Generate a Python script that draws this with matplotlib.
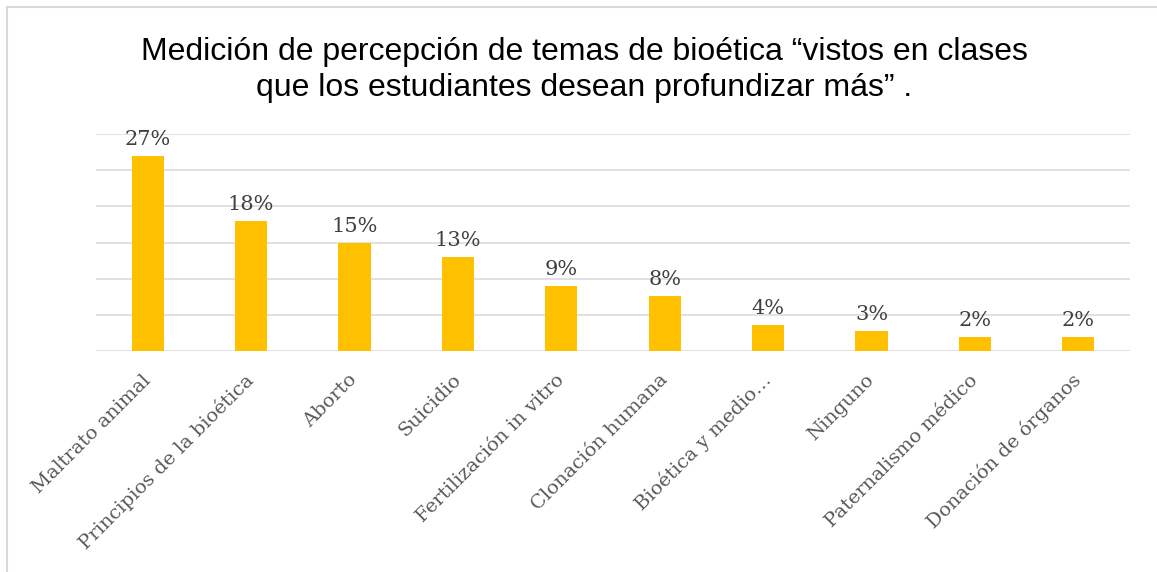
import matplotlib.pyplot as plt
from matplotlib.patches import Rectangle

# datos
temas = ['Maltrato animal', 'Principios de la bioética', 'Aborto', 'Suicidio',
         'Fertilización in vitro', 'Clonación humana', 'Bioética y medio…',
         'Ninguno', 'Paternalismo médico', 'Donación de órganos']
porcentajes = [27, 18, 15, 13, 9, 7.6, 3.6, 2.8, 1.9, 1.9]

titulo = ('Medición de percepción de temas de bioética “vistos en clases\n'
          'que los estudiantes desean profundizar más” .')

fig = plt.figure(figsize=(11.57, 5.72), dpi=100)
ax = fig.add_axes([96 / 1157, 1 - 351 / 572, (1130 - 96) / 1157, (351 - 134) / 572])

x = range(len(temas))
bars = ax.bar(x, porcentajes, width=0.31, color='#FFC000', zorder=3)

for b, v in zip(bars, porcentajes):
    ax.annotate(f'{round(v)}%', (b.get_x() + b.get_width() / 2, v),
                xytext=(0, 5), textcoords='offset points', ha='center', va='bottom',
                fontsize=15, color='#404040', family='DejaVu Serif')

ax.set_xlim(-0.5, len(temas) - 0.5)
ax.set_ylim(0, 30)
ax.set_yticks(range(0, 31, 5))
ax.yaxis.grid(True, color='#D9D9D9', lw=1.1, zorder=0)
ax.tick_params(axis='y', left=False, labelleft=False)
ax.tick_params(axis='x', length=0, pad=19)
ax.set_xticks(list(x))
ax.set_xticklabels(temas, rotation=45, ha='right', va='center', rotation_mode='anchor',
                   fontsize=14, color='#595959', family='DejaVu Serif')
for s in ax.spines.values():
    s.set_visible(False)

fig.text(0.505, 0.878, titulo, ha='center', va='center', fontsize=23,
         family='Liberation Sans', color='black', linespacing=1.25)

# borde del area del grafico
fig.patches.append(Rectangle((7 / 1157, -0.1), 1.2, 1 - 7 / 572 + 0.1,
                             transform=fig.transFigure, fill=False,
                             edgecolor='#D9D9D9', lw=1.5))

fig.savefig('out.png', dpi=100)
